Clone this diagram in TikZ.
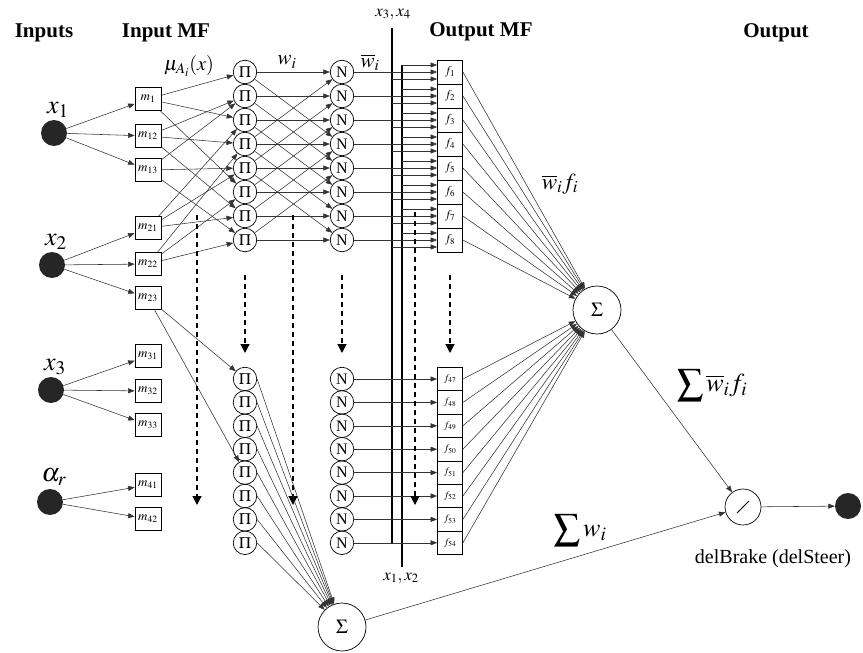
\documentclass[tikz,border=0pt]{standalone}
\usepackage{mathptmx}
\usepackage{fontspec}
\setmainfont{Liberation Serif}
\usetikzlibrary{arrows.meta,positioning}

\tikzset{
  innode/.style={circle, fill=black!85, minimum size=26pt, inner sep=0pt},
  mfbox/.style={draw, line width=0.8pt, minimum width=26pt, minimum height=23pt, inner sep=0pt, font=\fontsize{13}{13}\selectfont},
  prodnode/.style={circle, draw, line width=0.7pt, minimum size=23.5pt, inner sep=0pt, font=\fontsize{16}{16}\selectfont},
  fbox/.style={draw, line width=0.8pt, minimum width=25pt, inner sep=0pt},
  sumnode/.style={circle, draw, line width=0.7pt, minimum size=48pt, inner sep=0pt, font=\fontsize{20}{20}\selectfont},
  divnode/.style={circle, draw, line width=0.7pt, minimum size=36pt, inner sep=0pt,
    path picture={\draw[line width=0.8pt] ([shift={(-6pt,-6pt)}]path picture bounding box.center) -- ([shift={(6pt,6pt)}]path picture bounding box.center);}},
  conn/.style={-{Triangle[length=6.5pt,width=5pt]}, line width=0.55pt, black!80},
  dasharrow/.style={dashed, dash pattern=on 5pt off 4pt, line width=1.2pt, -{Triangle[length=9pt,width=9pt]}},
  header/.style={font=\bfseries\fontsize{21}{21}\selectfont},
  lbl/.style={font=\fontsize{26}{26}\selectfont, inner sep=1pt},
}

\begin{document}
\begin{tikzpicture}[x=1pt, y=-1pt]
    \useasboundingbox (0,0) rectangle (863,653);
    % headers
    \node[header] (hin) at (44,33) {Inputs};
    \node[header] (hmf) at (166,33) {Input MF};
    \node[header] (hout mf) at (481,32) {Output MF};
    \node[header] (hout) at (776,33) {Output};

    % inputs
    \node[innode, label={[lbl, xshift=4pt, label distance=1pt]above:$x_1$}] (x1) at (54,133) {};
    \node[innode, label={[lbl, xshift=4pt, label distance=1pt]above:$x_2$}] (x2) at (52,265) {};
    \node[innode, label={[lbl, xshift=4pt, label distance=1pt]above:$x_3$}] (x3) at (51,390) {};
    \node[innode, label={[lbl, xshift=4pt, label distance=2pt]above:$\alpha_r$}] (ar) at (50,502) {};

    % input membership functions
    \node[mfbox] (m11) at (148,99) {$m_{1}$};
    \node[mfbox] (m12) at (148,136) {$m_{12}$};
    \node[mfbox] (m13) at (148,170) {$m_{13}$};
    \node[mfbox] (m21) at (148,228) {$m_{21}$};
    \node[mfbox] (m22) at (148,264) {$m_{22}$};
    \node[mfbox] (m23) at (148,298) {$m_{23}$};
    \node[mfbox] (m31) at (148,356) {$m_{31}$};
    \node[mfbox] (m32) at (148,391) {$m_{32}$};
    \node[mfbox] (m33) at (148,425) {$m_{33}$};
    \node[mfbox] (m41) at (148,485) {$m_{41}$};
    \node[mfbox] (m42) at (148,519) {$m_{42}$};

    \foreach \a/\b in {x1/m11, x1/m12, x1/m13, x2/m21, x2/m22, x2/m23, x3/m31, x3/m32, x3/m33, ar/m41, ar/m42}
        \draw[conn] (\a) -- (\b);

    % rule and normalisation layers, upper block
    \foreach \i [evaluate=\i as \yy using 48+24*\i] in {1,...,8} {
        \node[prodnode] (pa\i) at (245,\yy) {$\Pi$};
        \node[prodnode] (na\i) at (342,\yy) {N};
        \node[fbox, minimum height=24pt, font=\fontsize{12}{12}\selectfont] (fa\i) at (450,\yy) {$f_{\i}$};
    }
    % lower block
    \foreach \i [evaluate=\i as \yy using 355.6+23.4*\i, evaluate=\i as \k using int(46+\i)] in {1,...,8} {
        \node[prodnode] (pb\i) at (245,\yy) {$\Pi$};
        \node[prodnode] (nb\i) at (342,\yy) {N};
        \node[fbox, minimum height=23.4pt, font=\fontsize{10}{10}\selectfont] (fb\i) at (450,\yy) {$f_{\k}$};
    }

    \foreach \a/\b in {m11/1, m11/3, m11/6, m12/2, m12/4, m12/7, m13/2, m13/5, m13/8,
                       m21/3, m21/5, m21/7, m22/4, m22/6, m22/8}
        \draw[conn] (\a) -- (pa\b);
    \draw[conn] (m23) -- (pb1);
    \draw[conn] (m23) -- (pb5);

    \foreach \a/\b in {1/1, 2/2, 3/3, 4/4, 5/5, 6/6, 7/7, 8/8, 1/4, 2/5, 3/6, 4/7, 5/8, 4/1, 5/2, 6/3, 7/4, 8/5}
        \draw[conn] (pa\a) -- (na\b);

    % input lines to the output MF
    \draw[line width=1.1pt] (392,28) -- (392,543);
    \draw[line width=1.1pt] (402,65) -- (402,567);
    \node[font=\fontsize{17}{17}\selectfont] (lx34) at (393,14) {$x_3,x_4$};
    \node[font=\fontsize{17}{17}\selectfont] (lx12) at (401,578) {$x_1,x_2$};

    \foreach \i [evaluate=\i as \yy using 48+24*\i] in {1,...,8} {
        \coordinate (ua\i) at (402,\yy-7);
        \coordinate (ub\i) at (392,\yy+7);
        \draw[conn] (na\i) -- (fa\i);
        \draw[conn] (ua\i) -- (ua\i -| fa\i.west);
        \draw[conn] (ub\i) -- (ub\i -| fa\i.west);
    }
    \foreach \i in {1,...,8}
        \draw[conn] (nb\i) -- (fb\i);

    % dashed continuation arrows
    \draw[dasharrow] (197,215) -- (197,505);
    \draw[dasharrow] (245,275) -- (245,353);
    \draw[dasharrow] (293,215) -- (293,505);
    \draw[dasharrow] (342,275) -- (342,353);
    \draw[dasharrow] (415,212) -- (415,505);
    \draw[dasharrow] (450,275) -- (450,353);

    % summation and output
    \node[sumnode] (sumtop) at (597,310) {$\Sigma$};
    \node[sumnode] (sumbot) at (342,627) {$\Sigma$};
    \node[divnode] (div) at (743,507) {};
    \node[innode] (out) at (848,506) {};

    \foreach \i in {1,...,8} {
        \draw[conn] (fa\i.east) -- (sumtop);
        \draw[conn] (fb\i.east) -- (sumtop);
        \draw[conn] (pb\i.east) -- (sumbot);
    }
    \draw[conn] (sumtop) -- (div);
    \draw[conn] (sumbot) -- (div);
    \draw[conn] (div) -- (out);

    % labels
    \node[font=\fontsize{20}{20}\selectfont, inner sep=0pt] (lmu) at (189,66) {$\mu_{A_i}(x)$};
    \node[font=\fontsize{21}{21}\selectfont] (lw) at (287,62) {$w_i$};
    \node[font=\fontsize{21}{21}\selectfont] (lwb) at (370,62) {$\overline{w}_i$};
    \node[font=\fontsize{23}{23}\selectfont] (lwf) at (560,184) {$\overline{w}_i f_i$};
    \node[lbl] (lsumwf) at (712,385) {$\displaystyle\sum \overline{w}_i f_i$};
    \node[lbl] (lsumw) at (580,530) {$\displaystyle\sum w_i$};
    \node[font=\fontsize{20}{20}\selectfont] (lout) at (773,559) {delBrake (delSteer)};
\end{tikzpicture}
\end{document}
